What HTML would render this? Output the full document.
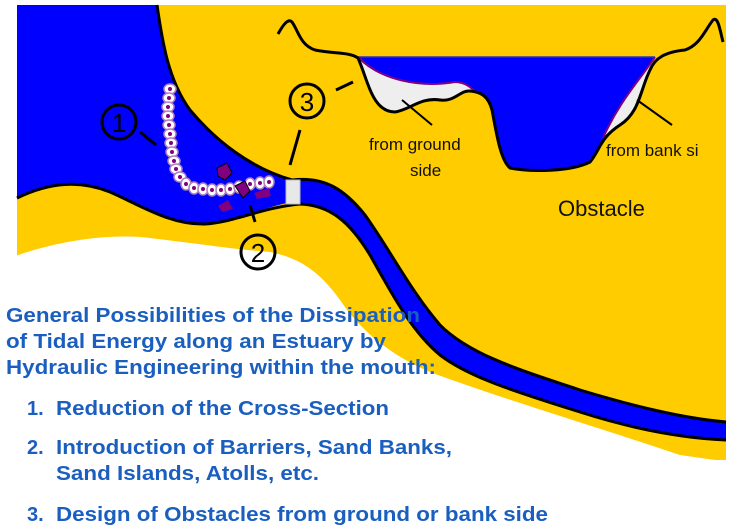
<!DOCTYPE html>
<html><head><meta charset="utf-8"><style>
html,body{margin:0;padding:0;background:#fff;width:729px;height:525px;overflow:hidden}
svg{display:block}
</style></head><body>
<svg width="729" height="525" viewBox="0 0 729 525" xmlns="http://www.w3.org/2000/svg">
<rect x="17" y="5" width="709" height="455" fill="#ffcc00"/>
<path d="M0,262 C40,245 100,232 150,238 C200,244 240,250 270,252 C300,258 320,272 340,300 C360,330 390,355 430,372 C500,398 600,428 680,455 L729,462 L729,525 L0,525 Z" fill="#fff"/>
<path d="M17,5 L157,5 C162,40 168,80 190,110 C215,140 250,168 292,180 L292,202 C260,208 235,222 205,224 C170,225 140,205 110,192 C80,180 50,182 17,198 Z" fill="#0000ff"/>
<path d="M290,179 C325,176 345,190 365,215 C390,250 410,290 440,325 C470,355 520,370 580,390 C630,405 680,418 726,422 L726,440 C680,438 630,428 580,412 C520,393 470,378 440,355 C410,330 390,290 370,255 C350,222 330,205 300,204 Z" fill="#0000ff"/>
<g fill="none" stroke="#000" stroke-width="3">
<path d="M157,5 C162,40 168,80 190,110 C215,140 250,168 292,180 C325,176 345,190 365,215 C390,250 410,290 440,325 C470,355 520,370 580,390 C630,405 680,418 726,422"/>
<path d="M17,198 C50,182 80,180 110,192 C140,205 170,225 205,224 C235,222 260,208 300,204 C330,205 350,222 370,255 C390,290 410,330 440,355 C470,378 520,393 580,412 C630,428 680,438 726,440"/>
</g>
<rect x="286" y="180" width="14" height="24" fill="#e8e8e8" stroke="#bbb"/>
<!-- cross section -->
<path d="M358,57 C368,80 372,112 395,112 C410,110 420,97 440,100 C455,102 460,90 470,91 C480,92 488,95 492,110 C496,130 500,160 510,168 C530,172 570,172 590,162 C600,150 600,138 620,125 C640,112 640,90 650,70 L655,57 Z" fill="#0000ff"/>
<path d="M358,57 C380,80 420,88 455,82 C465,82 472,88 475,92 L470,91 C460,90 455,102 440,100 C420,97 410,110 395,112 C372,112 368,80 358,57 Z" fill="#eee"/>
<path d="M358,57 C380,80 420,88 455,82 C465,82 472,88 475,92" fill="none" stroke="#800080" stroke-width="2"/>
<path d="M655,57 C640,80 620,100 603,138 C610,130 615,128 620,125 C640,112 640,90 650,70 Z" fill="#eee"/>
<path d="M655,57 C640,80 620,100 603,138" fill="none" stroke="#800080" stroke-width="2"/>
<line x1="358" y1="57" x2="655" y2="57" stroke="#3333aa" stroke-width="1.5"/>
<path d="M278,34 C283,25 288,18 292,22 C298,30 300,45 315,50 C335,54 350,52 358,58 C368,80 372,112 395,112 C410,110 420,97 440,100 C455,102 460,90 470,91 C480,92 488,95 492,110 C496,130 500,160 510,168 C530,172 570,172 590,162 C600,150 600,138 620,125 C640,112 640,90 650,70 C655,58 665,52 685,50 C700,45 705,30 713,20 C718,16 720,30 723,42" fill="none" stroke="#000" stroke-width="3"/>
<line x1="402" y1="100" x2="432" y2="125" stroke="#000" stroke-width="2"/>
<line x1="637" y1="100" x2="672" y2="125" stroke="#000" stroke-width="2"/>
<g font-family="'Liberation Sans',sans-serif" fill="#111">
<text x="369" y="150" font-size="17">from ground</text>
<text x="410" y="176" font-size="17">side</text>
<text x="606" y="156" font-size="17">from bank si</text>
<text x="558" y="216" font-size="22">Obstacle</text>
</g>
<g fill="#fff" stroke="#b080c0" stroke-width="1.5">
<ellipse cx="170" cy="89" rx="6" ry="5"/><ellipse cx="169" cy="98" rx="6" ry="5"/><ellipse cx="168" cy="107" rx="6" ry="5"/><ellipse cx="168" cy="116" rx="6" ry="5"/><ellipse cx="169" cy="125" rx="6" ry="5"/><ellipse cx="170" cy="134" rx="6" ry="5"/><ellipse cx="171" cy="143" rx="6" ry="5"/><ellipse cx="172" cy="152" rx="6" ry="5"/><ellipse cx="174" cy="161" rx="6" ry="5"/><ellipse cx="176" cy="169" rx="6" ry="5"/><ellipse cx="180" cy="177" rx="6" ry="5"/><ellipse cx="186" cy="184" rx="5" ry="6"/><ellipse cx="194" cy="188" rx="5" ry="6"/><ellipse cx="203" cy="189" rx="5" ry="6"/><ellipse cx="212" cy="190" rx="5" ry="6"/><ellipse cx="221" cy="190" rx="5" ry="6"/><ellipse cx="230" cy="189" rx="5" ry="6"/><ellipse cx="239" cy="187" rx="5" ry="6"/><ellipse cx="250" cy="184" rx="5" ry="6"/><ellipse cx="260" cy="183" rx="5" ry="6"/><ellipse cx="269" cy="182" rx="5" ry="6"/>
</g>
<g fill="#800080">
<circle cx="170" cy="89" r="2"/><circle cx="169" cy="98" r="2"/><circle cx="168" cy="107" r="2"/><circle cx="168" cy="116" r="2"/><circle cx="169" cy="125" r="2"/><circle cx="170" cy="134" r="2"/><circle cx="171" cy="143" r="2"/><circle cx="172" cy="152" r="2"/><circle cx="174" cy="161" r="2"/><circle cx="176" cy="169" r="2"/><circle cx="180" cy="177" r="2"/><circle cx="186" cy="184" r="2"/><circle cx="194" cy="188" r="2"/><circle cx="203" cy="189" r="2"/><circle cx="212" cy="190" r="2"/><circle cx="221" cy="190" r="2"/><circle cx="230" cy="189" r="2"/><circle cx="239" cy="187" r="2"/><circle cx="250" cy="184" r="2"/><circle cx="260" cy="183" r="2"/><circle cx="269" cy="182" r="2"/>
<path d="M217,168 L227,163 L232,173 L225,180 L218,176 Z" stroke="#000" stroke-width="1"/>
<path d="M235,186 L245,181 L250,191 L243,198 Z" stroke="#000" stroke-width="1"/>
<path d="M254,193 L269,188 L271,196 L257,199 Z"/>
<path d="M218,206 L228,200 L233,209 L222,212 Z"/>
</g>
<g fill="none" stroke="#000" stroke-width="3">
<circle cx="119" cy="122" r="17"/>
<line x1="140" y1="132" x2="156" y2="145"/>
<circle cx="307" cy="101" r="17"/>
<line x1="300" y1="130" x2="290" y2="165"/>
<line x1="336" y1="90" x2="353" y2="82"/>
<circle cx="258" cy="252" r="17"/>
<line x1="250" y1="205" x2="255" y2="222"/>
</g>
<g font-family="'Liberation Sans',sans-serif" font-size="26" text-anchor="middle" fill="#000">
<text x="119" y="132">1</text><text x="307" y="111">3</text><text x="258" y="262">2</text>
</g>
<g font-family="'Liberation Sans Narrow','Liberation Sans',sans-serif" font-weight="bold" font-size="20" fill="#1a5fc0">
<text x="6" y="322" textLength="414" lengthAdjust="spacingAndGlyphs">General Possibilities of the Dissipation</text>
<text x="6" y="348" textLength="380" lengthAdjust="spacingAndGlyphs">of Tidal Energy along an Estuary by</text>
<text x="6" y="374" textLength="430" lengthAdjust="spacingAndGlyphs">Hydraulic Engineering within the mouth:</text>
<text x="27" y="415">1.</text><text x="56" y="415" textLength="333" lengthAdjust="spacingAndGlyphs">Reduction of the Cross-Section</text>
<text x="27" y="454">2.</text><text x="56" y="454" textLength="396" lengthAdjust="spacingAndGlyphs">Introduction of Barriers, Sand Banks,</text>
<text x="56" y="480" textLength="263" lengthAdjust="spacingAndGlyphs">Sand Islands, Atolls, etc.</text>
<text x="27" y="521">3.</text><text x="56" y="521" textLength="492" lengthAdjust="spacingAndGlyphs">Design of Obstacles from ground or bank side</text>
</g>
</svg>
</body></html>
